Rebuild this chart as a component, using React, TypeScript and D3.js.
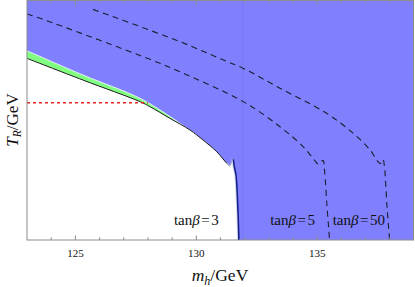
import React from "react";
import * as d3 from "d3";

const W = 415;
const H = 287;

const X_DOMAIN: [number, number] = [123, 139];
const Y_DOMAIN: [number, number] = [0, 100];
const majorTicks = [125, 130, 135];
const minorTicks = [124, 126, 127, 128, 129, 131, 132, 133, 134, 136, 137, 138];

// tanβ=3 exclusion boundary (m_h [GeV], T_R in arbitrary plot units)
const tan3Curve: [number, number][] = [
  [123.0, 76.0], [125.32, 66.9], [127.67, 57.9], [128.08, 55.8], [128.91, 50.9],
  [129.74, 46.0], [130.28, 41.8], [130.85, 36.9], [131.26, 32.1], [131.39, 31.0],
];
const tan3Spike: [number, number][] = [[131.26, 32.1], [131.39, 31.0], [131.53, 33.8]];
const tan3Drop: [number, number][] = [
  [131.53, 33.8], [131.57, 30.7], [131.64, 27.2], [131.72, 12.6], [131.76, 0],
];
// upper edge of the green band
const greenTop: [number, number][] = [
  [123.0, 79.2], [125.32, 69.0], [127.67, 59.3], [128.91, 51.7], [130.05, 43.6],
];
// tanβ=5 contour (dashed)
const tan5Curve: [number, number][] = [
  [123.0, 94.6], [123.67, 92.3], [128.08, 75.6], [129.32, 70.4], [131.94, 57.9],
  [133.46, 47.4], [134.42, 39.0], [134.9, 33.2], [135.04, 31.8], [135.24, 33.3],
  [135.3, 29.3], [135.4, 14.6], [135.51, 0],
];
// tanβ=50 contour (dashed)
const tan50Curve: [number, number][] = [
  [125.73, 96.5], [129.32, 83.0], [131.05, 75.6], [131.94, 71.8], [133.46, 63.5],
  [135.39, 53.0], [136.49, 44.6], [137.18, 37.7], [137.51, 32.8], [137.61, 32.0],
  [137.72, 33.7], [137.78, 30.5], [137.88, 14.6], [137.99, 0],
];
const redLevel = 57.4;
const redEndX = 128.0;
const seamX = 131.92;

const labelValues = ["3", "5", "50"];
const labelX = [130.0, 133.98, 136.72];
const labelY = 6.3;

export default function App() {
  const xs = d3.scaleLinear().domain(X_DOMAIN).range([27, 414]);
  const ys = d3.scaleLinear().domain(Y_DOMAIN).range([240, 1]);
  const smooth = d3
    .line<[number, number]>()
    .x((d) => xs(d[0]))
    .y((d) => ys(d[1]))
    .curve(d3.curveCatmullRom.alpha(0.5));
  const straight = d3
    .line<[number, number]>()
    .x((d) => xs(d[0]))
    .y((d) => ys(d[1]));

  const boundaryAll = [...tan3Curve, ...tan3Drop];
  const whitePath =
    (smooth(boundaryAll) as string) + `L${xs(X_DOMAIN[0])},${ys(0)}Z`;
  const greenEnd = greenTop[greenTop.length - 1];
  const greenPath =
    (smooth(greenTop) as string) +
    `L${xs(greenEnd[0])},${ys(0)}L${xs(X_DOMAIN[0])},${ys(0)}Z`;

  const x0 = xs(X_DOMAIN[0]);
  const x1 = 413.5;
  const yTop = 0.5;
  const yBot = ys(0);
  const frame = "#8c8c8c";
  const serif = "'Liberation Serif', 'DejaVu Serif', serif";

  return (
    <svg
      width={W}
      height={H}
      style={{ position: "absolute", left: 0, top: 0, background: "#fff" }}
      fontFamily={serif}
    >
      <defs>
        <clipPath id="plot">
          <rect x={x0} y={yTop} width={x1 - x0} height={yBot - yTop} />
        </clipPath>
      </defs>
      <g clipPath="url(#plot)">
        <rect x={x0} y={yTop} width={x1 - x0} height={yBot - yTop} fill="#8080ff" />
        <line
          x1={xs(seamX)} x2={xs(seamX)} y1={yTop} y2={yBot}
          stroke="#7070ee" strokeWidth={0.8} opacity={0.6}
        />
        <path d={greenPath} fill="#80ff80" />
        <path d={smooth(greenTop) as string} fill="none" stroke="#e4ecf4" strokeWidth={1} />
        <path d={whitePath} fill="#ffffff" />
        <path d={smooth(tan3Curve) as string} fill="none" stroke="#1a1a1a" strokeWidth={1} />
        <path d={straight(tan3Spike) as string} fill="none" stroke="#b8b8c8" strokeWidth={1.2} />
        <path d={smooth(tan3Drop) as string} fill="none" stroke="#d0d8e8" strokeWidth={1.2} transform="translate(-1.2,0)" />
        <path d={smooth(tan3Drop) as string} fill="none" stroke="#14208a" strokeWidth={1.6} />
        <line
          x1={xs(X_DOMAIN[0])} x2={xs(redEndX)} y1={ys(redLevel)} y2={ys(redLevel)}
          stroke="#e8231f" strokeWidth={1.6} strokeDasharray="3,3"
        />
        <path d={smooth(tan5Curve) as string} fill="none" stroke="#1c1c2c" strokeWidth={1.1} strokeDasharray="6,4.5" />
        <path d={smooth(tan50Curve) as string} fill="none" stroke="#1c1c2c" strokeWidth={1.1} strokeDasharray="6,4.5" />
      </g>

      {/* frame */}
      <rect x={x0} y={yTop} width={x1 - x0} height={yBot - yTop} fill="none" stroke={frame} strokeWidth={1} />
      {majorTicks.map((t) => (
        <g key={"M" + t}>
          <line x1={xs(t)} x2={xs(t)} y1={yBot} y2={yBot - 4.5} stroke={frame} />
          <line x1={xs(t)} x2={xs(t)} y1={yTop} y2={yTop + 4.5} stroke={frame} />
          <text x={xs(t)} y={257} fontSize={11} textAnchor="middle" fill="#111">
            {t}
          </text>
        </g>
      ))}
      {minorTicks.map((t) => (
        <g key={"m" + t}>
          <line x1={xs(t)} x2={xs(t)} y1={yBot} y2={yBot - 2.7} stroke={frame} />
          <line x1={xs(t)} x2={xs(t)} y1={yTop} y2={yTop + 2.7} stroke={frame} />
        </g>
      ))}

      {/* tanβ labels */}
      {labelValues.map((v, i) => (
        <text key={v} x={xs(labelX[i])} y={ys(labelY)} fontSize={15} textAnchor="middle" fill="#111">
          <tspan>tan</tspan>
          <tspan fontStyle="italic">β</tspan>
          <tspan dx={1.5}>=</tspan>
          <tspan dx={1.5}>{v}</tspan>
        </text>
      ))}

      {/* axis labels */}
      <text x={220} y={281} fontSize={17.5} textAnchor="middle" fill="#111">
        <tspan fontStyle="italic">m</tspan>
        <tspan fontStyle="italic" fontSize={12} dy={3.5}>h</tspan>
        <tspan dy={-3.5}>/GeV</tspan>
      </text>
      <text transform="translate(17.5,120) rotate(-90)" fontSize={17} textAnchor="middle" fill="#111">
        <tspan fontStyle="italic">T</tspan>
        <tspan fontStyle="italic" fontSize={11.5} dy={3.5}>R</tspan>
        <tspan dy={-3.5}>/GeV</tspan>
      </text>
    </svg>
  );
}
